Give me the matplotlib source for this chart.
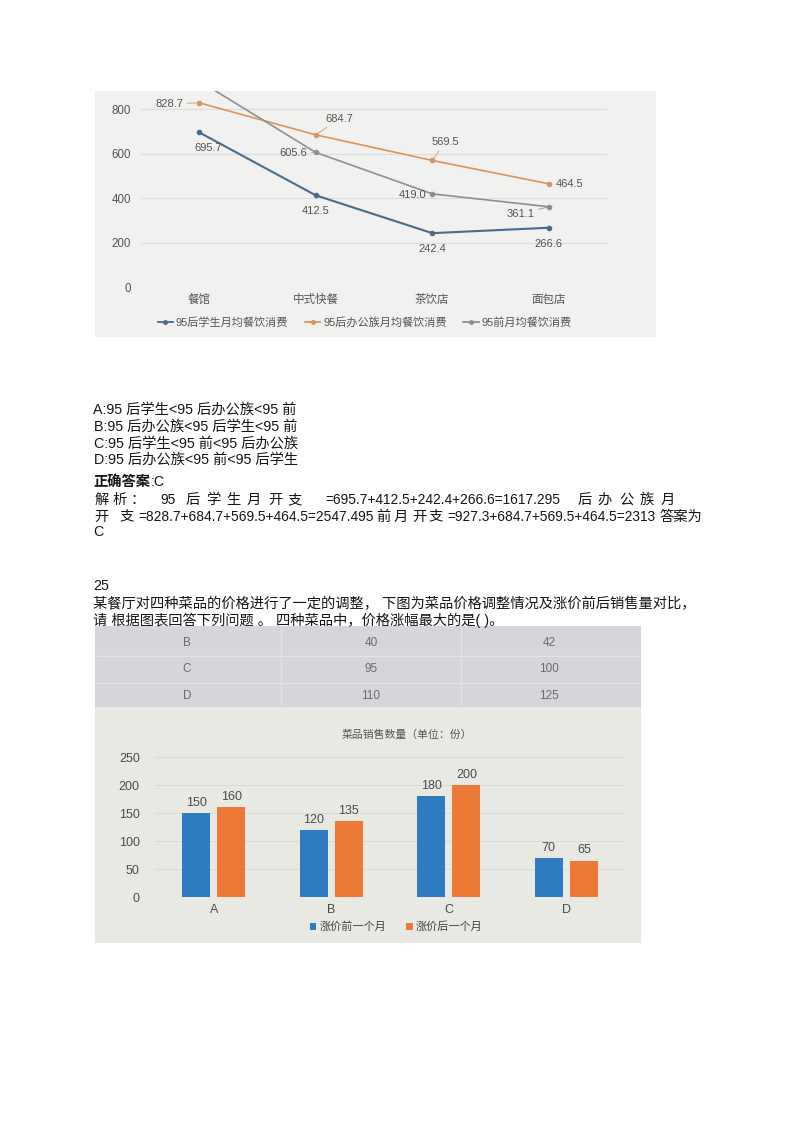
import matplotlib
matplotlib.use("Agg")
import matplotlib.pyplot as plt
from matplotlib.patches import Rectangle, Patch
from matplotlib.lines import Line2D
import numpy as np

plt.rcParams['font.family'] = ['Liberation Sans', 'Noto Sans CJK SC', 'DejaVu Sans']

# ---------------- data ----------------
line_categories = ['餐馆', '中式快餐', '茶饮店', '面包店']
student_95 = [695.7, 412.5, 242.4, 266.6]
office_95 = [828.7, 684.7, 569.5, 464.5]
before_95 = [927.3, 605.6, 419.0, 361.1]
line_series = ['95后学生月均餐饮消费', '95后办公族月均餐饮消费', '95前月均餐饮消费']
line_yticks = [0, 200, 400, 600, 800]

table_dishes = ['B', 'C', 'D']
price_before = [40, 95, 110]
price_after = [42, 100, 125]

bar_categories = ['A', 'B', 'C', 'D']
sales_before = [150, 120, 180, 70]
sales_after = [160, 135, 200, 65]
bar_series = ['涨价前一个月', '涨价后一个月']
bar_yticks = [0, 50, 100, 150, 200, 250]
bar_title = '菜品销售数量（单位：份）'

# ---------------- figure helpers ----------------
W, H = 800, 1131
fig = plt.figure(figsize=(W / 100, H / 100), dpi=100)
fig.patch.set_facecolor('white')


def fx(x):
    return x / W


def fy(y):
    return 1 - y / H


def panel(x0, y0, x1, y1, color):
    fig.patches.append(Rectangle((fx(x0), fy(y1)), (x1 - x0) / W, (y1 - y0) / H,
                                 transform=fig.transFigure, facecolor=color,
                                 edgecolor='none', zorder=-5))


def axes_px(x0, y0, x1, y1):
    return fig.add_axes([fx(x0), fy(y1), (x1 - x0) / W, (y1 - y0) / H])


TXT = '#161616'
FS = 10.3
FS_F = 9.9


def ptext(x, yc, s, ha='left', **kw):
    d = dict(fontsize=FS, color=TXT, ha=ha, va='baseline')
    d.update(kw)
    fig.text(fx(x), fy(yc + 5), s, **d)


# ---------------- line chart (photo 1) ----------------
panel(95, 91, 656, 337, '#f1f1ef')
ax1 = axes_px(141, 91, 607, 287)
ax1.set_facecolor('none')
xl = np.arange(len(line_categories))
line_colors = ['#4a6b8c', '#d8935f', '#8f8f8f']
series_vals = [student_95, office_95, before_95]
for vals, c, lw, name in zip(series_vals, line_colors, [1.5, 1.2, 1.2], line_series):
    ax1.plot(xl, vals, color=c, lw=lw, marker='o', ms=3, label=name, zorder=3)
ax1.set_xlim(-0.5, len(line_categories) - 0.5)
ax1.set_ylim(0, 882)
ax1.set_yticks(line_yticks)
ax1.set_xticks(xl, line_categories)
ax1.tick_params(length=0, labelsize=8.3, colors='#555555')
ax1.tick_params(axis='y', pad=7)
ax1.tick_params(axis='x', pad=5)
ax1.yaxis.grid(True, color='#dcdcdc', lw=0.8)
ax1.set_axisbelow(True)
for s in ax1.spines.values():
    s.set_visible(False)

# label offsets in pixels (dx, dy up), None = not shown
offs = [
    [(9, -16), (0, -16), (0, -16), (0, -16)],
    [(-30, -1), (24, 16), (13, 18), (21, 0)],
    [None, (-22, -1), (-20, -1), (-28, -7)],
]
leader = [False, True, True]
for si, (vals, c) in enumerate(zip(series_vals, line_colors)):
    for i, v in enumerate(vals):
        o = offs[si][i]
        if o is None:
            continue
        ap = dict(arrowstyle='-', color=c, lw=0.6, shrinkA=1, shrinkB=2) if leader[si] else None
        ax1.annotate(f'{v:.1f}', (xl[i], v), xytext=(o[0] * 0.72, o[1] * 0.72),
                     textcoords='offset points', ha='center', va='center',
                     fontsize=8, color='#555555', arrowprops=ap, zorder=4)

h1 = [Line2D([], [], color=c, lw=1.3, marker='o', ms=2.5) for c in line_colors]
fig.legend(h1, line_series, loc='center left', bbox_to_anchor=(fx(152), fy(322)),
           ncol=3, frameon=False, fontsize=8, handlelength=1.4, handletextpad=0.25,
           columnspacing=1.5, borderpad=0, labelcolor='#555555')

# ---------------- text block ----------------
options = ['A:95 后学生<95 后办公族<95 前',
           'B:95 后办公族<95 后学生<95 前',
           'C:95 后学生<95 前<95 后办公族',
           'D:95 后办公族<95 前<95 后学生']
for s, yc, x0 in zip(options, [409, 425.7, 442.3, 458.3], [93, 94, 94, 94]):
    ptext(x0, yc, s)

ptext(93, 481, '正确答案', fontweight='bold', family=['Noto Sans CJK SC'])
ptext(151, 481, ':C')

# analysis line 1 (justified / distributed)
for ch, xc in zip('解析：', [101.7, 120, 137.7]):
    ptext(xc, 499, ch, ha='center')
ptext(160, 499, '95', fontsize=FS_F)
for ch, xc in zip('后学生月开支', [193, 213, 233, 254, 275, 295]):
    ptext(xc, 499, ch, ha='center')
ptext(325, 499, '=695.7+412.5+242.4+266.6=1617.295', fontsize=FS_F)
for ch, xc in zip('后办公族月', [585, 605, 626, 647, 668]):
    ptext(xc, 499, ch, ha='center')
# analysis line 2
ptext(101, 515.7, '开', ha='center')
ptext(126.7, 515.7, '支', ha='center')
ptext(138, 515.7, '=828.7+684.7+569.5+464.5=2547.495', fontsize=FS_F)
for ch, xc in zip('前月开支', [383, 401, 419, 436]):
    ptext(xc, 515.7, ch, ha='center')
ptext(447, 515.7, '=927.3+684.7+569.5+464.5=2313', fontsize=FS_F)
ptext(660, 515.7, '答案为')
ptext(93, 531, 'C')

ptext(93, 585, '25')
ptext(93, 603.3, '某餐厅对四种菜品的价格进行了一定的调整， 下图为菜品价格调整情况及涨价前后销售量对比，')
ptext(93, 620, '请 根据图表回答下列问题 。 四种菜品中，价格涨幅最大的是( )。')

# ---------------- table + bar chart (photo 2) ----------------
panel(95, 626, 641, 707, '#d6d6da')
panel(95, 707, 641, 943, '#e9e9e4')
for yy in [656, 683]:
    fig.add_artist(Line2D([fx(97), fx(639)], [fy(yy)] * 2, transform=fig.transFigure,
                          color='#e3e3e6', lw=0.9))
for xx in [281, 461]:
    fig.add_artist(Line2D([fx(xx)] * 2, [fy(628), fy(705)], transform=fig.transFigure,
                          color='#e3e3e6', lw=0.9))
row_y = [643, 669, 696]
col_x = [187, 371, 549]
for i in range(len(table_dishes)):
    for cx, val in zip(col_x, [table_dishes[i], price_before[i], price_after[i]]):
        fig.text(fx(cx), fy(row_y[i]), str(val), ha='center', va='center',
                 fontsize=8.5, color='#6a6a6a')

ax2 = axes_px(155, 757, 625, 897)
ax2.set_facecolor('none')
xb = np.arange(len(bar_categories))
b1 = ax2.bar(xb - 0.15, sales_before, width=0.24, color='#2f7bc1', label=bar_series[0])
b2 = ax2.bar(xb + 0.15, sales_after, width=0.24, color='#ec7a36', label=bar_series[1])
ax2.bar_label(b1, padding=3, fontsize=9, color='#4a4a4a')
ax2.bar_label(b2, padding=3, fontsize=9, color='#4a4a4a')
ax2.set_xlim(-0.5, len(bar_categories) - 0.5)
ax2.set_ylim(0, 250)
ax2.set_yticks(bar_yticks)
ax2.set_xticks(xb, bar_categories)
ax2.tick_params(length=0, labelsize=9, colors='#4a4a4a')
ax2.tick_params(axis='y', pad=11)
ax2.tick_params(axis='x', pad=5)
ax2.yaxis.grid(True, color='#dadad5', lw=0.7)
ax2.set_axisbelow(True)
for s in ax2.spines.values():
    s.set_visible(False)

fig.text(fx(407), fy(735), bar_title, ha='center', va='center', fontsize=7.8, color='#555555')
h2 = [Patch(facecolor='#2f7bc1'), Patch(facecolor='#ec7a36')]
fig.legend(h2, bar_series, loc='center', bbox_to_anchor=(fx(396), fy(927)), ncol=2,
           frameon=False, fontsize=8, handlelength=0.6, handleheight=0.6,
           handletextpad=0.25, columnspacing=1.8, borderpad=0, labelcolor='#444444')

fig.savefig('out.png', dpi=100)
